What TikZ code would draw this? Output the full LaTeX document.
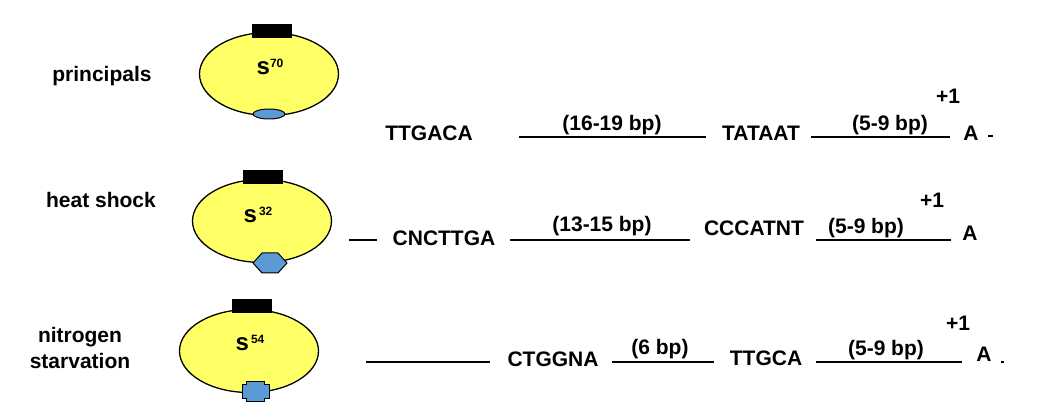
\documentclass[tikz,border=0pt]{standalone}
\usepackage{fontspec}
\setmainfont{Liberation Sans}
\usetikzlibrary{shapes.geometric}
\definecolor{sigyellow}{RGB}{255,255,102}
\definecolor{sigblue}{RGB}{91,155,213}
\newcommand{\signame}[2][0pt]{s\hspace{#1}\raisebox{7pt}{\fontsize{12}{12}\selectfont #2}}
\tikzset{
  txt/.style={font=\fontsize{21}{26}\selectfont\bfseries, inner sep=0pt, anchor=base},
  signode/.style={font=\fontsize{24}{24}\selectfont\bfseries, inner sep=0pt},
  body/.style={draw, line width=1.3pt, fill=sigyellow, ellipse, minimum width=139pt, minimum height=83pt, inner sep=0pt},
  capbox/.style={fill=black, minimum width=40pt, minimum height=14pt, inner sep=0pt},
  dna/.style={line width=1.2pt},
  tipshape/.style={draw, line width=1pt, fill=sigblue},
}
\begin{document}
\begin{tikzpicture}[x=1pt,y=-1pt]
  \useasboundingbox (0,0) rectangle (1037,403);
  % sigma 70
  \node[txt] (prin) at (102,82) {principals};
  \node[body] (b70) at (269,74) {};
  \node[capbox] (c70) at (272,31) {};
  \node[tipshape, ellipse, minimum width=32pt, minimum height=10pt, inner sep=0pt] (t70) at (269,114) {};
  \node[signode] (s70) at (270,67) {\signame{70}};
  % sigma 32
  \node[txt] (heat) at (101,207.5) {heat shock};
  \node[body] (b32) at (262,221) {};
  \node[capbox] (c32) at (263,177.5) {};
  \coordinate (t32) at (270,263);
  \draw[tipshape] (t32) ++(-17,0) -- ++(9,-10) -- ++(16,0) -- ++(9,10) -- ++(-9,10) -- ++(-16,0) -- cycle;
  \node[signode] (s32) at (258,215) {\signame[2pt]{32}};
  % sigma 54
  \node[txt, align=center] (nitro) at (80,369) {nitrogen\\starvation};
  \node[body] (b54) at (249,351) {};
  \node[capbox] (c54) at (251.5,306.5) {};
  \coordinate (t54) at (255,392);
  \draw[tipshape] (t54) ++(-9,-10) -- ++(18,0) -- ++(0,3) -- ++(5,0) -- ++(0,14) -- ++(-5,0) -- ++(0,3)
    -- ++(-18,0) -- ++(0,-3) -- ++(-4,0) -- ++(0,-14) -- ++(4,0) -- cycle;
  \node[signode] (s54) at (250,343) {\signame[2pt]{54}};

  % row 1 promoter
  \node[txt] (m35a) at (429,141) {TTGACA};
  \coordinate (a1) at (519,137);
  \coordinate (a2) at (706,137);
  \draw[dna] (a1) -- (a2);
  \node[txt] (gap1a) at (612,131) {(16-19 bp)};
  \node[txt] (m10a) at (761,141) {TATAAT};
  \coordinate (a3) at (811,137);
  \coordinate (a4) at (950,137);
  \draw[dna] (a3) -- (a4);
  \node[txt] (gap2a) at (890,131) {(5-9 bp)};
  \node[txt] (plusa) at (948,104) {+1};
  \node[txt] (starta) at (971,141) {A};
  \coordinate (a5) at (988,136);
  \coordinate (a6) at (993,136);
  \draw[dna] (a5) -- (a6);

  % row 2 promoter
  \coordinate (b0) at (349,240);
  \coordinate (b1) at (377,240);
  \draw[dna] (b0) -- (b1);
  \node[txt] (m35b) at (444,246) {CNCTTGA};
  \coordinate (b2) at (510,240);
  \coordinate (b3) at (690,240);
  \draw[dna] (b2) -- (b3);
  \node[txt] (gap1b) at (602,232) {(13-15 bp)};
  \node[txt] (m10b) at (754,236) {CCCATNT};
  \coordinate (b4) at (816,240);
  \coordinate (b5) at (951,240);
  \draw[dna] (b4) -- (b5);
  \node[txt] (gap2b) at (866,234) {(5-9 bp)};
  \node[txt] (plusb) at (932,208) {+1};
  \node[txt] (startb) at (970,241) {A};

  % row 3 promoter
  \coordinate (c0) at (366,362);
  \coordinate (c1) at (490,362);
  \draw[dna] (c0) -- (c1);
  \node[txt] (m24c) at (553,367) {CTGGNA};
  \coordinate (c2) at (612,362);
  \coordinate (c3) at (714,362);
  \draw[dna] (c2) -- (c3);
  \node[txt] (gap1c) at (660,355) {(6 bp)};
  \node[txt] (m12c) at (766,366) {TTGCA};
  \coordinate (c4) at (816,362);
  \coordinate (c5) at (962,362);
  \draw[dna] (c4) -- (c5);
  \node[txt] (gap2c) at (886,356) {(5-9 bp)};
  \node[txt] (plusc) at (958,331) {+1};
  \node[txt] (startc) at (984,362) {A};
  \coordinate (c6) at (1001,362);
  \coordinate (c7) at (1004,362);
  \draw[dna] (c6) -- (c7);
\end{tikzpicture}
\end{document}
